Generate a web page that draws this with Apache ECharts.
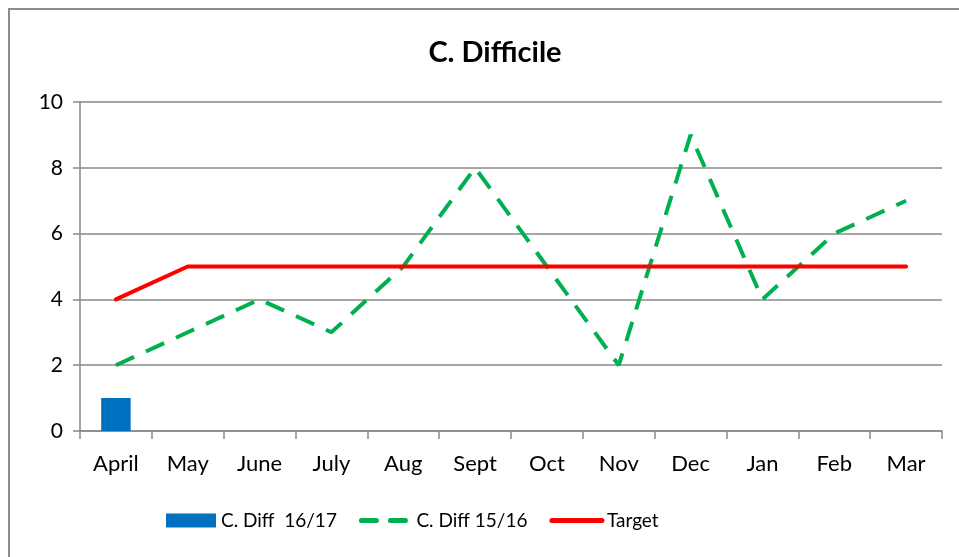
<!DOCTYPE html>
<html>
<head>
<meta charset="utf-8">
<script src="https://cdn.jsdelivr.net/npm/echarts@6/dist/echarts.min.js"></script>
<style>
  html, body { margin: 0; padding: 0; background: #fff; }
  #chart { width: 959px; height: 557px; }
</style>
</head>
<body>
<div id="chart"></div>
<script>
const months = ['April', 'May', 'June', 'July', 'Aug', 'Sept', 'Oct', 'Nov', 'Dec', 'Jan', 'Feb', 'Mar']
const diff1617 = [1, null, null, null, null, null, null, null, null, null, null, null]
const diff1516 = [2, 3, 4, 3, 5, 8, 5, 2, 9, 4, 6, 7]
const target = [4, 5, 5, 5, 5, 5, 5, 5, 5, 5, 5, 5]

const font = 'Lato, "Open Sans", sans-serif'
const axisGrey = '#898989'
const dash = [20, 13]
const noSymbol = { color: 'rgba(0,0,0,0)', borderWidth: 0, borderColor: 'rgba(0,0,0,0)' }

const chart = echarts.init(document.getElementById('chart'))

chart.setOption({
  animation: false,
  textStyle: { fontFamily: font },
  title: {
    text: 'C. Difficile',
    left: 490,
    top: 33,
    textAlign: 'center',
    textStyle: { fontFamily: font, fontSize: 29, fontWeight: 'bold', color: '#000' },
  },
  graphic: [
    {
      type: 'rect',
      shape: { x: 9, y: 9, width: 1000, height: 600 },
      style: { fill: 'none', stroke: '#8c8c8c', lineWidth: 2 },
      silent: true,
    },
  ],
  grid: { left: 80, right: 17, top: 102, bottom: 126 },
  legend: {
    bottom: 22,
    left: 161,
    itemWidth: 50,
    itemHeight: 14,
    itemGap: 22,
    textStyle: { fontFamily: font, fontSize: 19, color: '#000' },
    data: [
      { name: 'C. Diff  16/17', icon: 'rect' },
      {
        name: 'C. Diff 15/16',
        itemStyle: noSymbol,
        lineStyle: { type: [15, 14], width: 5, cap: 'round', color: '#00B050' },
      },
      {
        name: 'Target',
        itemStyle: noSymbol,
        lineStyle: { width: 5, cap: 'round', color: '#FF0000' },
      },
    ],
  },
  xAxis: {
    type: 'category',
    data: months,
    boundaryGap: true,
    axisLine: { lineStyle: { color: axisGrey, width: 1.5 } },
    axisTick: { show: true, length: 8, interval: 0, lineStyle: { color: axisGrey, width: 1.5 } },
    axisLabel: { fontFamily: font, fontSize: 22, color: '#000', margin: 22, interval: 0 },
  },
  yAxis: {
    type: 'value',
    min: 0,
    max: 10,
    interval: 2,
    axisLine: { show: true, lineStyle: { color: axisGrey, width: 1.5 } },
    axisTick: { show: true, length: 7, lineStyle: { color: axisGrey, width: 1.5 } },
    axisLabel: { fontFamily: font, fontSize: 21, color: '#000', margin: 17 },
    splitLine: { lineStyle: { color: axisGrey, width: 1.5 } },
  },
  series: [
    {
      name: 'C. Diff  16/17',
      type: 'bar',
      data: diff1617,
      barWidth: '41%',
      itemStyle: { color: '#0070C0' },
      z: 2,
    },
    {
      name: 'C. Diff 15/16',
      type: 'line',
      data: diff1516,
      symbol: 'none',
      lineStyle: { color: '#00B050', width: 4, type: dash, cap: 'butt' },
      itemStyle: { color: '#00B050' },
      z: 3,
    },
    {
      name: 'Target',
      type: 'line',
      data: target,
      symbol: 'none',
      lineStyle: { color: '#FF0000', width: 4, cap: 'round' },
      itemStyle: { color: '#FF0000' },
      z: 4,
    },
  ],
})
</script>
</body>
</html>
